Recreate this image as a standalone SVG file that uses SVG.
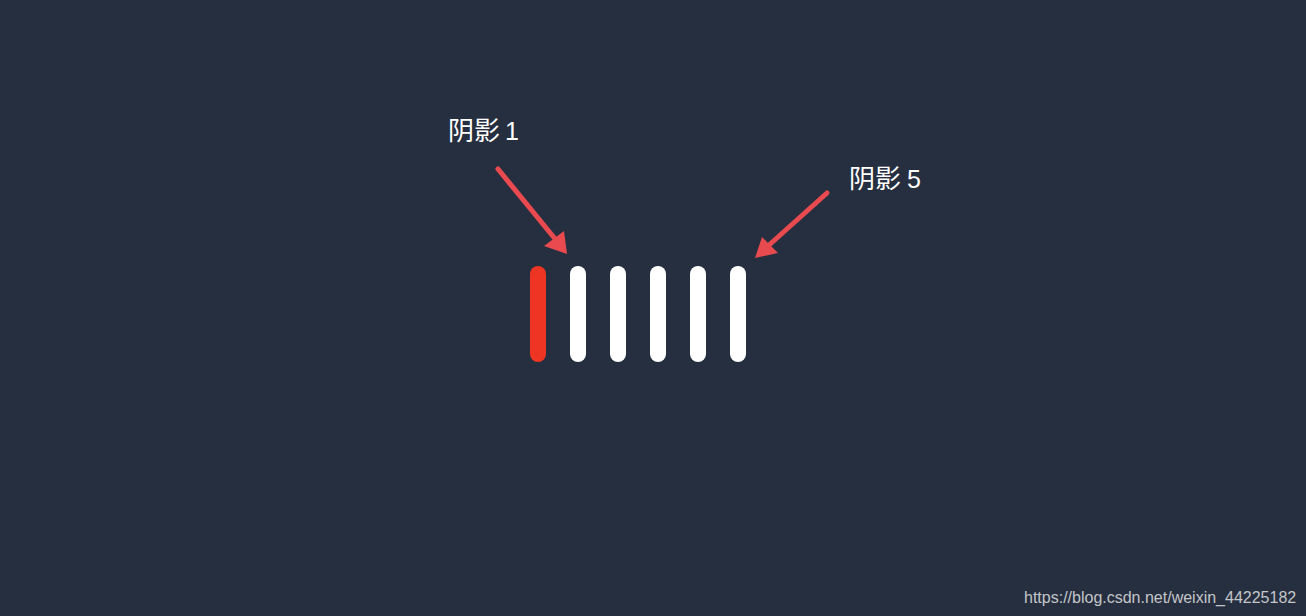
<svg xmlns="http://www.w3.org/2000/svg" width="1306" height="616" viewBox="0 0 1306 616">
<style>
.lbl{font-family:"Noto Sans CJK SC","Liberation Sans",sans-serif;font-size:26px;fill:#ffffff}
.num{font-family:"Liberation Sans","Noto Sans CJK SC",sans-serif;font-size:25px}
.bar{fill:#ffffff}
.arr{stroke:#e84a4f;stroke-width:5;stroke-linecap:round;fill:none}
.head{fill:#e84a4f}
.wm{font-family:"Liberation Sans",Arial,sans-serif;font-size:16px;fill:#c4c6ca}
</style>
<rect x="0" y="0" width="1306" height="616" fill="#262f3f"/>
<g id="bars">
<rect x="530" y="266" width="16" height="96" rx="8" fill="#ee3524"/>
<rect class="bar" x="570" y="266" width="16" height="96" rx="8"/>
<rect class="bar" x="610" y="266" width="16" height="96" rx="8"/>
<rect class="bar" x="650" y="266" width="16" height="96" rx="8"/>
<rect class="bar" x="690" y="266" width="16" height="96" rx="8"/>
<rect class="bar" x="730" y="266" width="16" height="96" rx="8"/>
</g>
<g id="label1"><text class="lbl" x="448" y="140">阴影<tspan class="num" x="505">1</tspan></text></g>
<g id="label5"><text class="lbl" x="849" y="188">阴影<tspan class="num" x="907">5</tspan></text></g>
<g id="connectors">
<line class="arr" x1="498" y1="169" x2="556" y2="240"/>
<polygon class="head" points="567,254 544,246 564,231"/>
<line class="arr" x1="827" y1="193" x2="768" y2="246"/>
<polygon class="head" points="755,258 762,237 778,253"/>
</g>
<text class="wm" x="1024" y="603">https://blog.csdn.net/weixin_44225182</text>
</svg>
